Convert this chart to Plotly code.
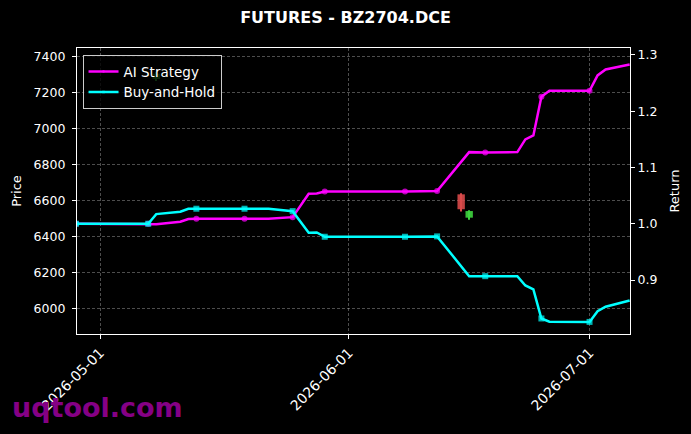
import plotly.graph_objects as go

# ---- data ----
dates = ["2026-04-28", "2026-05-07", "2026-05-08", "2026-05-11", "2026-05-12", "2026-05-13",
         "2026-05-19", "2026-05-22", "2026-05-25", "2026-05-27", "2026-05-28", "2026-05-29",
         "2026-06-08", "2026-06-12", "2026-06-16", "2026-06-18", "2026-06-22", "2026-06-23",
         "2026-06-24", "2026-06-25", "2026-06-26", "2026-07-01", "2026-07-02", "2026-07-03",
         "2026-07-06"]
ai_strategy = [1.0, 1.0, 0.9993, 1.0036, 1.0085, 1.0089, 1.0089, 1.0089, 1.0117, 1.0533,
               1.0539, 1.0574, 1.0574, 1.0580, 1.1273, 1.1268, 1.1273, 1.1499, 1.1570,
               1.2258, 1.2364, 1.2364, 1.2636, 1.2742, 1.2831]
buy_hold = [1.0, 1.0, 1.0171, 1.0213, 1.0267, 1.0267, 1.0267, 1.0267, 1.0224, 0.9840,
            0.9845, 0.9769, 0.9769, 0.9775, 0.9068, 0.9068, 0.9068, 0.8903, 0.8832,
            0.8316, 0.8258, 0.8255, 0.8446, 0.8524, 0.8636]
marker_dates = ["2026-04-28", "2026-05-07", "2026-05-13", "2026-05-19", "2026-05-25",
                "2026-05-29", "2026-06-08", "2026-06-12", "2026-06-18", "2026-06-25",
                "2026-07-01"]

candle_dates = ["2026-05-08", "2026-06-15", "2026-06-16"]
candle_open = [7275, 6634, 6504]
candle_high = [7315, 6640, 6545]
candle_low = [7265, 6538, 6493]
candle_close = [7305, 6551, 6541]

price_ticks = [6000, 6200, 6400, 6600, 6800, 7000, 7200, 7400]
return_ticks = [0.9, 1.0, 1.1, 1.2, 1.3]
date_ticks = ["2026-05-01", "2026-06-01", "2026-07-01"]

# ---- figure ----
FONT = "DejaVu Sans"
DAY_MS = 86400000
UP, DOWN = "#3fd43f", "#d94a4a"
msizes = [6 if d in marker_dates else 0 for d in dates]
c_colors = [UP if c >= o else DOWN for o, c in zip(candle_open, candle_close)]

fig = go.Figure()
# candle wicks
fig.add_trace(go.Bar(
    x=candle_dates, base=candle_low,
    y=[h - l for h, l in zip(candle_high, candle_low)],
    width=[0.13 * DAY_MS] * len(candle_dates), marker=dict(color=c_colors, line=dict(width=0)),
    showlegend=False, yaxis="y", hoverinfo="skip"))
# candle bodies
fig.add_trace(go.Bar(
    x=candle_dates, base=[min(o, c) for o, c in zip(candle_open, candle_close)],
    y=[abs(c - o) for o, c in zip(candle_open, candle_close)],
    width=[0.92 * DAY_MS] * len(candle_dates), marker=dict(color=c_colors, line=dict(width=0)),
    opacity=0.9, showlegend=False, yaxis="y", hoverinfo="skip"))
fig.add_trace(go.Scatter(
    x=dates, y=ai_strategy, name="AI Strategy", mode="lines+markers", yaxis="y2",
    line=dict(color="#ff00ff", width=2.5),
    marker=dict(symbol="circle", size=msizes, color="#ff00ff", line=dict(width=0))))
fig.add_trace(go.Scatter(
    x=dates, y=buy_hold, name="Buy-and-Hold", mode="lines+markers", yaxis="y2",
    line=dict(color="#00ffff", width=2.5),
    marker=dict(symbol="square", size=msizes, color="#00ffff", line=dict(width=0))))

axis_common = dict(showline=True, linecolor="white", linewidth=1.2, ticks="outside",
                   tickcolor="white", ticklen=4, tickwidth=1, zeroline=False)
TICKFONT = dict(family=FONT, size=12.5, color="white")
GRID = dict(gridcolor="rgba(255,255,255,0.3)", griddash="3px,2px", gridwidth=0.7)

fig.update_layout(
    width=691, height=434,
    paper_bgcolor="black", plot_bgcolor="black",
    margin=dict(l=77, r=61, t=48, b=100),
    barmode="overlay",
    title=dict(text="<b>FUTURES - BZ2704.DCE</b>", x=0.5, xanchor="center",
               y=1 - 17.5 / 434, yanchor="middle",
               font=dict(family=FONT, size=16, color="white")),
    xaxis=dict(type="date", range=["2026-04-28 03:00", "2026-07-06 01:00"],
               tickvals=date_ticks, ticktext=date_ticks, tickangle=-45,
               tickfont=dict(family=FONT, size=14, color="white"),
               mirror=True, showgrid=True, **GRID, **axis_common),
    yaxis=dict(range=[5857, 7448], tickvals=price_ticks, ticklabelstandoff=4,
               tickfont=TICKFONT,
               title=dict(text="Price", font=dict(family=FONT, size=13, color="white"), standoff=9),
               showgrid=True, **GRID, **axis_common),
    yaxis2=dict(range=[0.804, 1.3124], tickvals=return_ticks, overlaying="y", side="right",
                tickformat=".1f", showgrid=False, tickfont=TICKFONT,
                title=dict(text="Return", font=dict(family=FONT, size=13, color="white"), standoff=13),
                **axis_common),
    legend=dict(x=0.01, y=0.975, xanchor="left", yanchor="top",
                bgcolor="rgba(0,0,0,0.8)", bordercolor="#cccccc", borderwidth=1,
                font=dict(family=FONT, size=13.5, color="white"), tracegroupgap=0),
    showlegend=True,
    annotations=[dict(text="<b>uqtool.com</b>", xref="paper", yref="paper",
                      x=(10 - 77) / 553, y=-(425 - 334) / 286, xanchor="left",
                      yanchor="bottom", showarrow=False,
                      font=dict(family=FONT, size=27, color="#850085"))],
)

fig.write_html("out.html", config={"displayModeBar": False},
               post_script="document.body.style.margin='0px';")
